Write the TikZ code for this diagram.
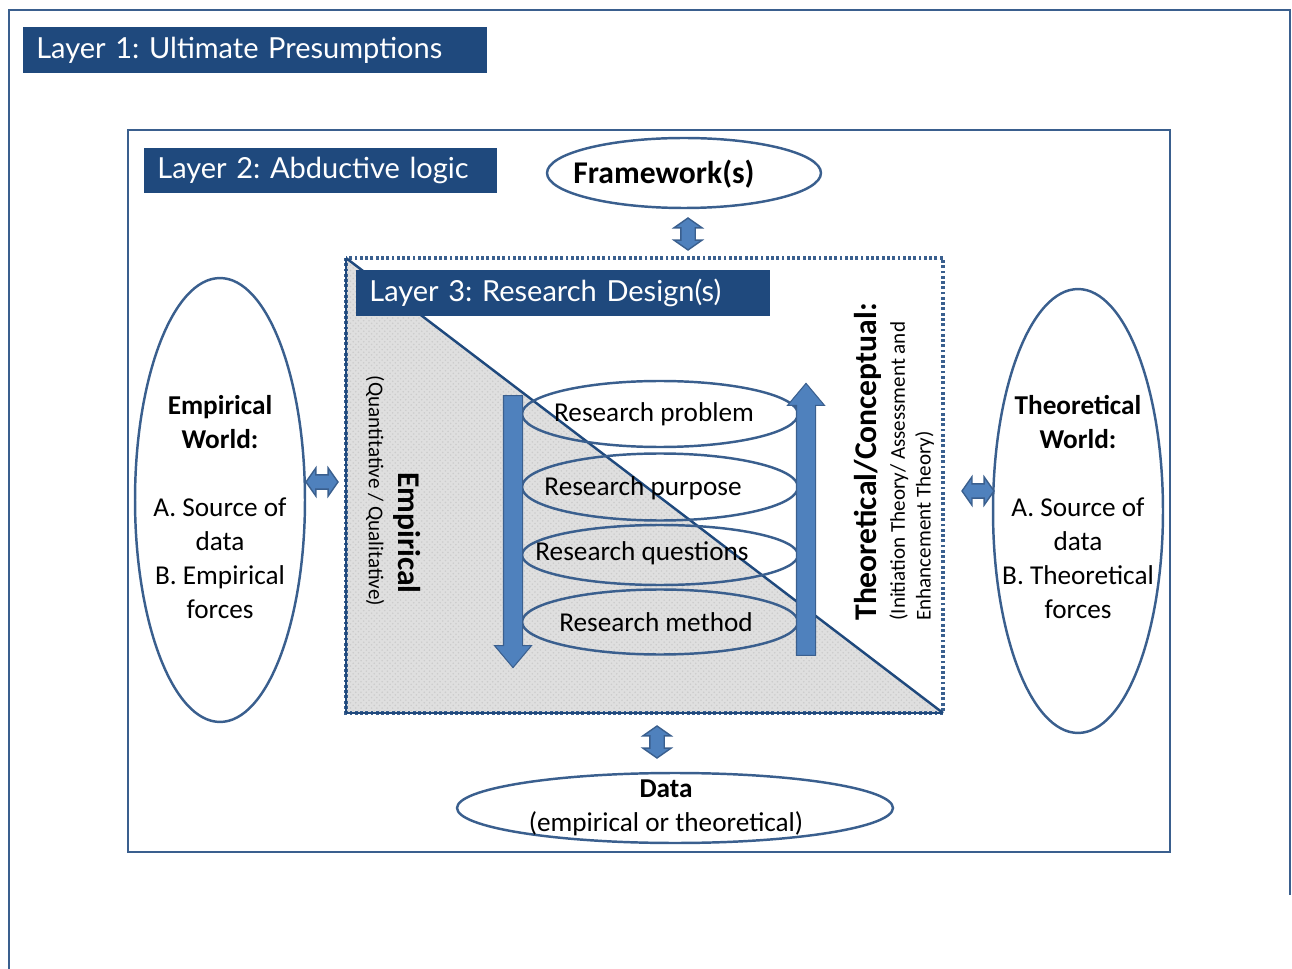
\documentclass[tikz,border=0pt]{standalone}
\usepackage{fontspec}
\setmainfont{Carlito}
\newfontfamily\layerfont{Lato}
\frenchspacing
\usetikzlibrary{shapes.geometric,shapes.arrows,patterns}
\definecolor{B1}{RGB}{31,73,125}
\definecolor{B2}{RGB}{58,95,142}
\definecolor{B3}{RGB}{79,129,189}
\definecolor{G1}{RGB}{223,223,223}

\begin{document}
\begin{tikzpicture}[x=0.02cm,y=-0.02cm,
    frame/.style={draw=B2, line width=1.5pt},
    layerbox/.style={anchor=north west, fill=B1, text=white, inner xsep=0.26cm, inner ysep=0pt,
      minimum height=0.92cm, align=left, font=\layerfont\fontsize{16.5}{19}\selectfont},
    ring/.style={draw=B2, line width=1.4pt, ellipse, inner sep=0pt},
    txt/.style={font=\fontsize{15.5}{19.3}\selectfont, align=center, inner sep=0pt},
    dblarrow/.style={double arrow, draw=B2, fill=B3, line width=0.8pt, inner xsep=0pt, inner ysep=0.13cm,
      minimum height=0.64cm, double arrow head extend=0.14cm, double arrow tip angle=110},
    bigarrow/.style={single arrow, draw=B2, fill=B3, line width=0.6pt, inner xsep=0pt, inner ysep=0.18cm,
      minimum height=5.44cm, single arrow head extend=0.18cm, single arrow tip angle=80}]
  \useasboundingbox (0,0) rectangle (1292,969);
  % frames of layer 1 and layer 2
  \draw[frame] (9,969) -- (9,10) -- (1290,10) -- (1290,895);
  \draw[frame] (128,130) rectangle (1170,852);
  \node[layerbox, text width=8.76cm] (lay1) at (23,27) {Layer 1: Ultimate Presumptions};
  \node[layerbox, text width=6.54cm, minimum height=0.9cm] (lay2) at (144,148) {Layer 2: Abductive logic};

  % layer 3: empirical half in grey
  \coordinate (d3nw) at (346,258);
  \coordinate (d3se) at (943,713);
  \fill[G1] (d3nw) -- (d3nw |- d3se) -- (d3se) -- cycle;
  \fill[pattern=crosshatch dots, pattern color=gray!40] (d3nw) -- (d3nw |- d3se) -- (d3se) -- cycle;
  \draw[B2, line width=1.8pt, dash pattern=on 1.6pt off 1.4pt] (d3nw) rectangle (d3se);
  \draw[B1, line width=1.3pt] (d3nw |- d3se) -- (d3nw);
  \draw[B1, line width=1.3pt] (d3nw |- d3se) -- (d3se);
  \draw[B1, line width=1.4pt] (d3nw) -- (d3se);
  \node[layerbox, text width=7.76cm] (lay3) at (356,270) {Layer 3: Research Design(s)};

  % framework, worlds and data
  \node[ring, minimum width=5.48cm, minimum height=1.4cm] (fw) at (684,173) {};
  \node[txt, font=\bfseries\fontsize{18}{22}\selectfont] (fwtxt) at (664,174) {Framework(s)};
  \node[ring, minimum width=3.4cm, minimum height=8.88cm] (empw) at (220,500) {};
  \node[txt] (empwtxt) at (220,507) {\textbf{Empirical}\\\textbf{World:}\\[19.3pt]A. Source of\\data\\B. Empirical\\forces};
  \node[ring, minimum width=3.4cm, minimum height=8.88cm] (theow) at (1078,511) {};
  \node[txt] (theowtxt) at (1078,507) {\textbf{Theoretical}\\\textbf{World:}\\[19.3pt]A. Source of\\data\\B. Theoretical\\forces};
  \node[ring, minimum width=8.72cm, minimum height=1.4cm] (data) at (675,808) {};
  \node[txt] (datatxt) at (666,808) {\textbf{Data}\\(empirical or theoretical)};

  % research design rings
  \node[ring, minimum width=5.52cm, minimum height=1.32cm] (rprob) at (660,414) {};
  \node[ring, minimum width=5.52cm, minimum height=1.34cm] (rpurp) at (660,487) {};
  \node[ring, minimum width=5.52cm, minimum height=1.2cm] (rques) at (660,555) {};
  \node[ring, minimum width=5.52cm, minimum height=1.3cm] (rmeth) at (660,622) {};
  \node[txt] (rprobtxt) at (654,414) {Research problem};
  \node[txt] (rpurptxt) at (643,488) {Research purpose};
  \node[txt] (rquestxt) at (642,553) {Research questions};
  \node[txt] (rmethtxt) at (656,622) {Research method};

  \node[bigarrow, rotate=-90] (down) at (513,526) {};
  \node[bigarrow, rotate=90] (up) at (806,525) {};

  % side texts of layer 3
  \node[txt, rotate=-90, font=\bfseries\fontsize{18}{22}\selectfont] (emptxt) at (407,533) {Empirical};
  \node[txt, rotate=-90, font=\fontsize{12}{14.7}\selectfont] (quanttxt) at (375,491) {(Quantitative / Qualitative)};
  \node[txt, rotate=90, anchor=west, font=\bfseries\fontsize{18}{22}\selectfont] (theotxt) at (868,621) {Theoretical/Conceptual:};
  \node[rotate=90, anchor=north west, align=left, inner sep=0pt, font=\fontsize{12}{14.7}\selectfont] (inittxt) at (889,621) {(Initiation Theory/ Assessment and\\Enhancement Theory)};

  % links between the layers
  \node[dblarrow, rotate=90] (fwlink) at (688,234) {};
  \node[dblarrow] (emplink) at (322,482) {};
  \node[dblarrow] (theolink) at (978,491) {};
  \node[dblarrow, rotate=90] (datalink) at (657,742) {};
\end{tikzpicture}
\end{document}
